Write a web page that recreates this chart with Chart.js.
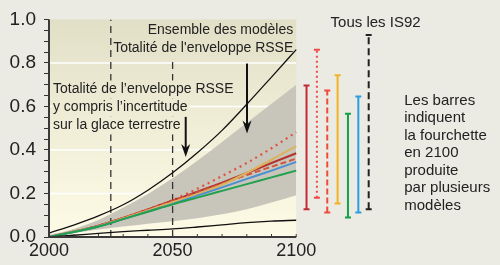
<!DOCTYPE html>
<html lang="fr">
<head>
<meta charset="UTF-8">
<title>Élévation du niveau de la mer</title>
<script src="https://cdn.jsdelivr.net/npm/chart.js"></script>
<style>
  html, body { margin: 0; padding: 0; background: #ebeae3; }
  #wrap { width: 500px; height: 265px; }
</style>
</head>
<body>
<div id="wrap"><canvas id="seaChart" width="500" height="265"></canvas></div>
<script>
// --- data ---
const years = [2000, 2010, 2020, 2030, 2040, 2050, 2060, 2070, 2080, 2090, 2100];

// envelope of all models (black curves)
const envHigh = [0.018, 0.055, 0.097, 0.148, 0.215, 0.295, 0.387, 0.49, 0.61, 0.735, 0.861];
const envLow  = [0.0, 0.008, 0.017, 0.025, 0.031, 0.037, 0.046, 0.056, 0.066, 0.073, 0.077];

// grey band (envelope incl. land ice uncertainty)
const bandHigh = [0.01, 0.037, 0.078, 0.135, 0.198, 0.27, 0.35, 0.437, 0.525, 0.612, 0.70];
const bandLow  = [0.0, 0.018, 0.034, 0.048, 0.061, 0.072, 0.086, 0.104, 0.128, 0.158, 0.192];

// scenario averages
const redDotted = [0, 0.025, 0.052, 0.088, 0.127, 0.17, 0.222, 0.28, 0.34, 0.408, 0.482];
const goldLine  = [0, 0.025, 0.05, 0.085, 0.122, 0.16, 0.197, 0.24, 0.295, 0.355, 0.418];
const redSolid  = [0, 0.025, 0.052, 0.088, 0.127, 0.168, 0.208, 0.25, 0.294, 0.34, 0.385];
const redDashed = [0, 0.025, 0.052, 0.088, 0.126, 0.166, 0.205, 0.245, 0.285, 0.323, 0.36];
const blueLine  = [0, 0.023, 0.048, 0.082, 0.117, 0.152, 0.19, 0.228, 0.267, 0.305, 0.345];
const greenLine = [0, 0.023, 0.048, 0.082, 0.116, 0.15, 0.181, 0.212, 0.243, 0.274, 0.305];

// ranges in 2100 (bars on the right)
const barNames = ['rouge', 'rouge pointillé', 'rouge tireté', 'or', 'vert', 'bleu', 'Tous les IS92'];
const barLow   = [0.128, 0.18, 0.113, 0.154, 0.09, 0.113, 0.127];
const barHigh  = [0.696, 0.861, 0.673, 0.743, 0.566, 0.646, 0.928];

// dashed reference years
const markerYears = [2025, 2050];
const markerTops  = [1.0, 0.81];

const gridValues = [0.2, 0.4, 0.6, 0.8];

const fontName = "'Liberation Sans', Arial, sans-serif";

function points(values) {
  return years.map((yr, i) => ({ x: yr, y: values[i] }));
}

function curve(label, values, color, width, dash) {
  return {
    label: label,
    data: points(values),
    borderColor: color,
    borderWidth: width,
    borderDash: dash || [],
    pointRadius: 0,
    fill: false,
    cubicInterpolationMode: 'monotone',
    order: 1
  };
}

function rangeBar(i, color, dash) {
  return {
    label: barNames[i],
    xAxisID: 'xb',
    data: [{ x: i, y: barLow[i] }, { x: i, y: barHigh[i] }],
    borderColor: color,
    borderWidth: 2,
    borderDash: dash || [],
    pointStyle: 'line',
    pointRadius: 3,
    pointBorderWidth: 2,
    pointBorderColor: color,
    fill: false,
    order: 1
  };
}

const datasets = [
  {
    label: 'bande haute',
    data: points(bandHigh),
    borderColor: 'rgba(0,0,0,0)',
    backgroundColor: '#c8c6bb',
    pointRadius: 0,
    fill: '+1',
    cubicInterpolationMode: 'monotone',
    order: 10
  },
  {
    label: 'bande basse',
    data: points(bandLow),
    borderColor: 'rgba(0,0,0,0)',
    pointRadius: 0,
    fill: false,
    cubicInterpolationMode: 'monotone',
    order: 10
  },
  curve('enveloppe haute', envHigh, '#111111', 1.3),
  curve('enveloppe basse', envLow, '#111111', 1.3),
  curve('vert', greenLine, '#23a04e', 2),
  curve('bleu', blueLine, '#4a90d0', 2),
  curve('or', goldLine, '#dcb25c', 2),
  curve('rouge tireté', redDashed, '#d2553f', 2, [6, 3]),
  curve('rouge', redSolid, '#b3342e', 2),
  curve('rouge pointillé', redDotted, '#e0503c', 2.2, [2, 4]),
  rangeBar(0, '#c22a36'),
  rangeBar(1, '#f04a48', [2, 3]),
  rangeBar(2, '#ef4b3d', [6, 3]),
  rangeBar(3, '#f2b322'),
  rangeBar(4, '#14a04a'),
  rangeBar(5, '#2a9ee0'),
  rangeBar(6, '#222222', [7, 4])
];

markerYears.forEach((yr, i) => {
  datasets.push({
    label: 'repère ' + yr,
    data: [{ x: yr, y: 0 }, { x: yr, y: markerTops[i] }],
    borderColor: '#333333',
    borderWidth: 1.3,
    borderDash: [7, 5],
    pointRadius: 0,
    fill: false,
    order: 5
  });
});

// plot background (gradient) and white grid lines, limited to 2000-2100
const plotBackground = {
  id: 'plotBackground',
  beforeDatasetsDraw(chart) {
    const { ctx, scales: { x, y } } = chart;
    const left = x.getPixelForValue(2000), right = x.getPixelForValue(2100);
    const top = y.getPixelForValue(1), bottom = y.getPixelForValue(0);
    const g = ctx.createLinearGradient(0, top, 0, bottom);
    g.addColorStop(0, '#e2dfc7');
    g.addColorStop(0.5, '#f1eed8');
    g.addColorStop(1, '#fdfbe5');
    chart.$plotGradient = g;
    ctx.save();
    ctx.fillStyle = g;
    ctx.fillRect(left, top, right - left, bottom - top);
    ctx.strokeStyle = '#ffffff';
    ctx.lineWidth = 1.5;
    gridValues.forEach(v => {
      const py = y.getPixelForValue(v);
      ctx.beginPath();
      ctx.moveTo(left, py);
      ctx.lineTo(right, py);
      ctx.stroke();
    });
    ctx.restore();
  }
};

function drawArrow(ctx, px, yFrom, yTo) {
  ctx.save();
  ctx.strokeStyle = '#111';
  ctx.fillStyle = '#111';
  ctx.lineWidth = 2;
  ctx.beginPath();
  ctx.moveTo(px, yFrom);
  ctx.lineTo(px, yTo - 8);
  ctx.stroke();
  ctx.beginPath();
  ctx.moveTo(px, yTo);
  ctx.lineTo(px - 4.5, yTo - 13);
  ctx.lineTo(px, yTo - 9);
  ctx.lineTo(px + 4.5, yTo - 13);
  ctx.closePath();
  ctx.fill();
  ctx.restore();
}

// axes, arrows and texts
const annotations = {
  id: 'annotations',
  afterDatasetsDraw(chart) {
    const { ctx, scales: { x, y } } = chart;
    const x0 = x.getPixelForValue(2000), x1 = x.getPixelForValue(2100);
    const y0 = y.getPixelForValue(0), y1 = y.getPixelForValue(1);

    ctx.save();
    ctx.strokeStyle = '#3a3a3a';
    ctx.lineWidth = 2;
    ctx.beginPath();
    ctx.moveTo(x0, y1);
    ctx.lineTo(x0, y0);
    ctx.lineTo(x1, y0);
    ctx.stroke();
    ctx.lineWidth = 1;
    for (let yr = 2010; yr <= 2100; yr += 10) {
      const px = x.getPixelForValue(yr);
      ctx.beginPath();
      ctx.moveTo(px, y0);
      ctx.lineTo(px, y0 - 3);
      ctx.stroke();
    }
    ctx.restore();

    // left text block sits on a patch of background
    ctx.save();
    ctx.font = '14px ' + fontName;
    ctx.textBaseline = 'middle';
    const leftLines = ['Totalité de l’enveloppe RSSE', 'y compris l’incertitude', 'sur la glace terrestre'];
    const lx = x.getPixelForValue(2001.6);
    leftLines.forEach((t, i) => {
      const py = y.getPixelForValue(0.678) + i * 18;
      const w = ctx.measureText(t).width;
      ctx.fillStyle = chart.$plotGradient;
      ctx.fillRect(lx - 1, py - 9, w + 3, 18);
      ctx.fillStyle = '#222';
      ctx.fillText(t, lx, py);
    });

    ctx.textAlign = 'right';
    const rx = x.getPixelForValue(2098.8);
    ctx.fillText('Ensemble des modèles', rx, y.getPixelForValue(0.952));
    ctx.fillText("Totalité de l'enveloppe RSSE", rx, y.getPixelForValue(0.87));

    ctx.font = '15px ' + fontName;
    ctx.textAlign = 'center';
    ctx.fillText('Tous les IS92', x.getPixelForValue(2132.1), y.getPixelForValue(0.984));

    ctx.textAlign = 'left';
    const noteLines = ['Les barres', 'indiquent', 'la fourchette', 'en 2100', 'produite', 'par plusieurs', 'modèles'];
    const nx = x.getPixelForValue(2143.7);
    noteLines.forEach((t, i) => {
      ctx.fillText(t, nx, y.getPixelForValue(0.627) + i * 17.5);
    });
    ctx.restore();

    drawArrow(ctx, x.getPixelForValue(2080.1), y.getPixelForValue(0.797), y.getPixelForValue(0.476));
    drawArrow(ctx, x.getPixelForValue(2055.3), y.getPixelForValue(0.552), y.getPixelForValue(0.368));
  }
};

new Chart(document.getElementById('seaChart'), {
  type: 'line',
  data: { datasets: datasets },
  plugins: [plotBackground, annotations],
  options: {
    responsive: false,
    animation: false,
    layout: { padding: { top: 19, right: 0, bottom: 0, left: 0 } },
    plugins: {
      legend: { display: false },
      tooltip: { enabled: false }
    },
    scales: {
      x: {
        type: 'linear',
        min: 2000,
        max: 2180,
        grid: { display: false, drawTicks: false },
        border: { display: false },
        ticks: {
          stepSize: 10,
          autoSkip: false,
          maxRotation: 0,
          padding: 3,
          color: '#222',
          font: { family: fontName, size: 18 },
          callback: v => (v <= 2100 && v % 50 === 0) ? String(v) : ''
        },
        afterFit: s => { s.height = 28; }
      },
      xb: {
        type: 'linear',
        display: false,
        min: -24.857,
        max: 18.095
      },
      y: {
        min: 0,
        max: 1,
        grid: { drawOnChartArea: false, drawTicks: true, tickLength: 5, color: '#333' },
        border: { display: false },
        ticks: {
          stepSize: 0.05,
          autoSkip: false,
          padding: 8,
          color: '#222',
          font: { family: fontName, size: 19 },
          callback: v => Math.abs(v * 5 - Math.round(v * 5)) < 1e-6 ? v.toFixed(1) : ''
        },
        afterFit: s => { s.width = 49; }
      }
    }
  }
});
</script>
</body>
</html>
